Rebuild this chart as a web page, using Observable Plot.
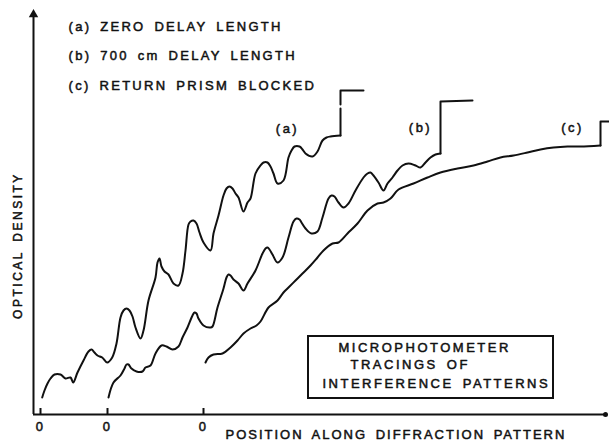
<!DOCTYPE html>
<html><head><meta charset="utf-8">
<script src="https://cdn.jsdelivr.net/npm/d3@7"></script>
<script src="https://cdn.jsdelivr.net/npm/@observablehq/plot@0.6"></script>
<style>
html,body{margin:0;padding:0;background:#fff;}
#chart svg text{letter-spacing:2.5px;word-spacing:3px;}
</style>
</head><body><div id="chart"></div>
<script>
const traceA = [[8.7,17],[11,24],[14,31],[17,36],[21,40],[27,40],[32,36],[37,37],[39.7,32],[44,42],[50,54],[55,63],[58,65],[61,62],[64,59],[68.7,57],[73.7,52],[78.7,57],[83,71],[87,97],[90,104],[93,106],[96,104],[99,98],[102,87],[107,76],[110,84],[115,114],[122,137],[124,152],[126,156],[128,148],[131,143],[135,140],[140,131],[145,129],[149,141],[152,164],[155,190],[157,193],[160,194],[163,191],[166,182],[170,172],[177,164],[180,181],[185,199],[190,219],[193,226],[196,228],[199,226],[202,221],[205,217],[210,203],[214,212],[217,216],[222,241],[227,249],[230,252],[234,252],[237,248],[240,241],[244,231],[250,234],[255,257],[258,264],[261,268],[266,268],[269,265],[272,261],[279,258],[284,263],[289,274],[293,277],[297,278],[307,279]];
const stepA = [[307,279],[307,306],[307,NaN],[307,310],[307,324],[330,324]];
const traceB = [[75,17],[80,32],[87,39],[91,46],[93,50],[95,50],[98,46],[103,43],[109,43],[112,47],[117,49],[122,61],[128,69],[133,68],[139,65],[145,68],[149,77],[154,87],[159,99],[161,102],[163,101],[165,96],[170,89],[177,87],[179,88],[184,107],[190,126],[193,137],[195,140],[197,139],[200,135],[205,131],[210,124],[214,131],[222,144],[229,161],[232,166],[234,167],[236,165],[239,160],[244,152],[249,157],[255,177],[260,193],[263,196],[266,195],[268,192],[272,186],[278,181],[284,183],[289,197],[295,216],[298,219],[301,218],[305,212],[310,207],[315,211],[322,224],[330,237],[334,241],[337,242],[340,239],[345,232],[350,224],[354,231],[359,237],[364,244],[369,249],[375,251],[382,249],[387,247],[392,252],[397,257],[402,260],[407,261]];
const stepB = [[407,261],[407,313],[439,314]];
const traceC = [[172,52],[175,57],[180,60],[189,61],[197,67],[204,74],[210,81],[217,86],[223,89],[227,93],[235,107],[244,114],[250,122],[255,127],[262,134],[269,141],[277,149],[284,157],[290,164],[299,171],[305,172],[314,181],[324,191],[334,204],[344,211],[350,212],[357,216],[365,225],[380,231],[394,237],[407,242],[424,246],[440,249],[454,253],[467,257],[480,259],[494,262],[507,265],[520,267],[534,268],[547,268],[567,269]];
const stepC = [[567,269],[567,293],[576,293]];

const zeroTicks = [7, 74, 170];
const tickLabels = ["0", "0", "0"];
const legendLines = ["(a) ZERO DELAY LENGTH", "(b) 700 cm DELAY LENGTH", "(c) RETURN PRISM BLOCKED"];
const curveLabels = ["(a)", "(b)", "(c)"];
const boxLines = ["MICROPHOTOMETER", "TRACINGS OF", "INTERFERENCE PATTERNS"];
const xTitle = "POSITION ALONG DIFFRACTION PATTERN";
const yTitle = "OPTICAL DENSITY";

// annotation placement (data units)
const legendPos = [[35,388],[35,359],[35,329]];
const curveLabelPos = [[254,286],[387,287],[539,287]];
const boxPos = [[305,67],[317,50],[289,31]];
const boxExtent = {x1: 275, x2: 520, y1: 16, y2: 78};

const ink = "#111";
const font = 13;
const txt = {fill: ink, stroke: ink, strokeWidth: 0.5};
const pt = {x: d => d[0], y: d => d[1], stroke: ink, strokeWidth: 2};

const chart = Plot.plot({
  width: 609,
  height: 442,
  marginLeft: 33,
  marginRight: 4,
  marginTop: 10,
  marginBottom: 28,
  x: {domain: [0, 572], axis: null},
  y: {domain: [0, 404], axis: null},
  style: {fontFamily: "'Liberation Sans', Arial, sans-serif", background: "#fff", color: ink},
  marks: [
    // axes
    Plot.ruleY([0], {x1: 0, x2: 572, stroke: ink, strokeWidth: 2}),
    Plot.dot([[572, 0]], {x: d => d[0], y: d => d[1], r: 2.5, fill: ink, stroke: null}),
    Plot.ruleX([0], {y1: 0, y2: 398, stroke: ink, strokeWidth: 2}),
    Plot.dot([[0, 400]], {x: d => d[0], y: d => d[1], symbol: "triangle", r: 3.5, fill: ink, stroke: null}),
    Plot.ruleX(zeroTicks, {x: d => d, y1: 0, y2: 6, stroke: ink, strokeWidth: 2}),
    Plot.text(zeroTicks, {x: d => d, y: 0, text: (d, i) => tickLabels[i], dy: 12, fontSize: font, ...txt}),
    // traces
    Plot.line(traceA, {...pt, curve: "catmull-rom"}),
    Plot.line(stepA, pt),
    Plot.line(traceB, {...pt, curve: "catmull-rom"}),
    Plot.line(stepB, pt),
    Plot.line(traceC, {...pt, curve: "catmull-rom"}),
    Plot.line(stepC, pt),
    // legend text
    Plot.text(legendLines, {x: (d, i) => legendPos[i][0], y: (d, i) => legendPos[i][1], text: d => d, textAnchor: "start", fontSize: font, ...txt}),
    Plot.text(curveLabels, {x: (d, i) => curveLabelPos[i][0], y: (d, i) => curveLabelPos[i][1], text: d => d, fontSize: font, ...txt}),
    // box
    Plot.rect([boxExtent], {x1: "x1", x2: "x2", y1: "y1", y2: "y2", fill: "none", stroke: ink, strokeWidth: 2}),
    Plot.text(boxLines, {x: (d, i) => boxPos[i][0], y: (d, i) => boxPos[i][1], text: d => d, textAnchor: "start", fontSize: font, ...txt}),
    // axis titles
    Plot.text([xTitle], {x: 192, y: 0, dy: 20, text: d => d, textAnchor: "start", fontSize: font, ...txt}),
    Plot.text([yTitle], {x: 0, y: 169, dx: -15, text: d => d, rotate: -90, fontSize: 12, ...txt})
  ]
});
const spacing = new Map([[xTitle, "2px"], ...legendLines.map(t => [t, "2.3px"])]);
d3.select(chart).selectAll("text").each(function() {
  const s = spacing.get(this.textContent);
  if (s) d3.select(this).style("letter-spacing", s);
});
document.getElementById("chart").appendChild(chart);
</script>
</body></html>
